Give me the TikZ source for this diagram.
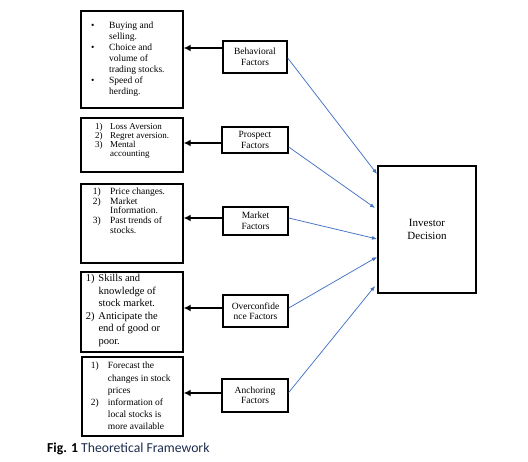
\documentclass[tikz,border=0pt]{standalone}
\usepackage{fontspec}
\setmainfont{Liberation Serif}
\newfontfamily\capfont{Carlito}
\usetikzlibrary{arrows.meta}
\definecolor{arrblue}{RGB}{68,114,196}
\definecolor{capblue}{RGB}{30,45,80}
\newcommand{\lst}[2]{\begin{tabular}[t]{@{}p{#1}@{}l@{}}#2\end{tabular}}
\tikzset{
  lbox/.style={draw, line width=1.4pt, inner sep=0pt},
  mbox/.style={draw, line width=1.4pt, inner sep=0pt, align=center, font=\fontsize{9.5}{10.5}\selectfont},
  txt/.style={inner sep=0pt, anchor=base west},
  blk/.style={line width=2pt, -{Latex[length=7pt,width=7pt]}},
  blu/.style={draw=arrblue, line width=0.75pt, -{Latex[length=5pt,width=4pt]}}
}
\begin{document}
\begin{tikzpicture}[x=1pt,y=-1pt]
\useasboundingbox[fill=white] (0,0) rectangle (528,462);
% left boxes
\node[lbox, minimum width=102, minimum height=97] (b1) at (132,59.5) {};
\node[lbox, minimum width=102, minimum height=54] (b2) at (132,145) {};
\node[lbox, minimum width=102, minimum height=79] (b3) at (132,223.5) {};
\node[lbox, minimum width=102, minimum height=80] (b4) at (132,312) {};
\node[lbox, minimum width=101, minimum height=79] (b5) at (132.5,396.5) {};
% texts of left boxes
\node[txt, font=\fontsize{9.5}{11}\selectfont] (t1) at (91,29) {\lst{18pt}{\textbullet & Buying and\\ & selling.\\ \textbullet & Choice and\\ & volume of\\ & trading stocks.\\ \textbullet & Speed of\\ & herding.}};
\node[txt, font=\fontsize{9}{9}\selectfont] (t2) at (95,130) {\lst{15pt}{1) & Loss Aversion\\ 2) & Regret aversion.\\ 3) & Mental\\ & accounting}};
\node[txt, font=\fontsize{9.5}{9.8}\selectfont] (t3) at (92.7,194.3) {\lst{17.3pt}{1) & Price changes.\\ 2) & Market\\ & Information.\\ 3) & Past trends of\\ & stocks.}};
\node[txt, font=\fontsize{10.5}{12.5}\selectfont] (t4) at (85.7,281.7) {\lst{12.6pt}{1) & Skills and\\ & knowledge of\\ & stock market.\\ 2) & Anticipate the\\ & end of good or\\ & poor.}};
\node[txt, font=\fontsize{9.5}{12.2}\selectfont] (t5) at (90.7,369) {\lst{17pt}{1) & Forecast the\\ & changes in stock\\ & prices\\ 2) & information of\\ & local stocks is\\ & more available}};
% middle boxes
\node[mbox, minimum width=64, minimum height=32] (beh) at (255,57) {Behavioral\\Factors};
\node[mbox, minimum width=66, minimum height=26] (pro) at (255,140) {Prospect\\Factors};
\node[mbox, minimum width=65, minimum height=28] (mkt) at (255.5,221) {Market\\Factors};
\node[mbox, minimum width=65, minimum height=32] (ovc) at (255.5,311) {Overconfide\\nce Factors};
\node[mbox, minimum width=66, minimum height=33] (anc) at (255,395.5) {Anchoring\\Factors};
% investor box
\node[draw, line width=1.8pt, inner sep=0pt, minimum width=98, minimum height=127, align=center, font=\fontsize{11}{13}\selectfont] (inv) at (427,229.5) {Investor\\Decision};
% thick arrows
\draw[blk] (beh.west |- 0,48) -- (b1.east |- 0,48);
\draw[blk] (pro.west |- 0,143) -- (b2.east |- 0,143);
\draw[blk] (mkt.west |- 0,218) -- (b3.east |- 0,218);
\draw[blk] (ovc.west |- 0,308) -- (b4.east |- 0,308);
\draw[blk] (anc.west |- 0,393) -- (b5.east |- 0,393);
% blue arrows
\coordinate (i1) at (377,174);
\coordinate (i2) at (375,208);
\coordinate (i3) at (377,239);
\coordinate (i4) at (377,257);
\coordinate (i5) at (375,286);
\draw[blu] ([yshift=-1pt]beh.east) -- (i1);
\draw[blu] ([yshift=-7pt]pro.east) -- (i2);
\draw[blu] ([yshift=3pt]mkt.east) -- (i3);
\draw[blu] ([yshift=3pt]ovc.east) -- (i4);
\draw[blu] ([yshift=3pt]anc.east) -- (i5);
% caption
\node[anchor=base west, inner sep=0pt, font=\capfont\fontsize{13.7}{16}\selectfont] (cap) at (47,453) {\textbf{Fig. 1} \textcolor{capblue}{Theoretical Framework}};
\end{tikzpicture}
\end{document}
